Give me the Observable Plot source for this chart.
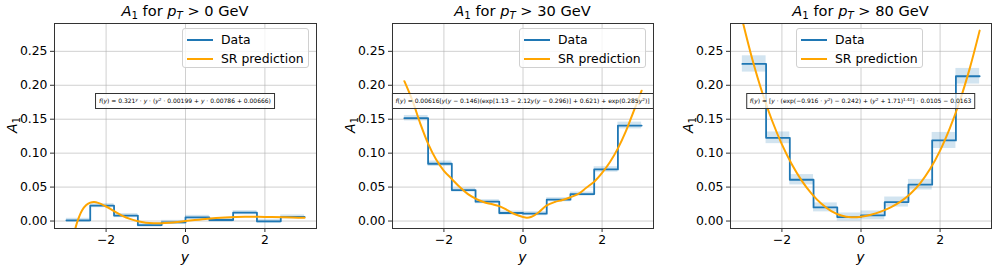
<!DOCTYPE html>
<html><head><meta charset="utf-8">
<script src="https://cdn.jsdelivr.net/npm/d3@7"></script>
<script src="https://cdn.jsdelivr.net/npm/@observablehq/plot@0.6"></script>
<style>
body{margin:0;background:#fff;}
#wrap{position:relative;width:997px;height:267px;font-family:"DejaVu Sans",sans-serif;overflow:hidden;}
.panel{position:absolute;top:0;}
.panel svg{position:absolute;top:22px;left:0;}
.title{position:absolute;top:0;height:22px;line-height:22px;font-size:14.6px;text-align:center;white-space:nowrap;}
.ylab{position:absolute;font-size:14px;transform:translate(-50%,-50%) rotate(-90deg);white-space:nowrap;}
.xlab{position:absolute;font-size:14px;transform:translate(-50%,-50%);}
.formula{position:absolute;top:93px;height:16px;box-sizing:border-box;border:1px solid #333;background:rgba(255,255,255,0.75);font-size:6px;line-height:14px;padding:0 3px;white-space:nowrap;transform:translateX(-50%);}
.legend{position:absolute;top:28px;width:127px;height:40px;box-sizing:border-box;border:1px solid #d0d0d0;border-radius:3px;background:rgba(255,255,255,0.8);font-size:12.4px;}
.legend .row{position:absolute;left:0;height:18px;line-height:18px;}
.legend .sw{position:absolute;left:4px;width:26px;top:8px;height:2px;}
.legend .tx{position:absolute;left:38px;top:0;white-space:nowrap;}
sup{font-size:70%;vertical-align:0.45em;line-height:0;}
sub{font-size:70%;vertical-align:-0.3em;line-height:0;}
</style></head>
<body><div id="wrap"></div>
<script>
// bin edges (y)
const edges = [-3, -2.4, -1.8, -1.2, -0.6, 0, 0.6, 1.2, 1.8, 2.4, 3];
// Data A1 per bin
const data0  = [0.001, 0.0226, 0.008, -0.006, -0.002, 0.0054, 0.0015, 0.0123, -0.0004, 0.006];
const err0   = [0.003, 0.003, 0.003, 0.003, 0.003, 0.003, 0.003, 0.003, 0.003, 0.003];
const data30 = [0.1515, 0.0844, 0.0456, 0.0285, 0.0118, 0.0108, 0.0314, 0.0397, 0.076, 0.1407];
const err30  = [0.004, 0.004, 0.003, 0.003, 0.003, 0.003, 0.003, 0.003, 0.004, 0.005];
const data80 = [0.2314, 0.1226, 0.0608, 0.0201, 0.0059, 0.0083, 0.028, 0.0535, 0.1187, 0.2133];
const err80  = [0.012, 0.0086, 0.0076, 0.0066, 0.006, 0.0066, 0.0074, 0.0078, 0.0118, 0.0115];
// SR prediction curves
const srX0 = [-2.78, -2.75, -2.7, -2.6, -2.5, -2.4, -2.3, -2.2, -2.0, -1.8, -1.6, -1.4, -1.2, -1.0, -0.8, -0.6, -0.4, -0.2, 0, 0.5, 1.0, 1.5, 2.0, 2.5, 3.0];
const srY0 = [-0.0124, -0.0057, 0.0032, 0.0162, 0.0236, 0.0272, 0.028, 0.0268, 0.0214, 0.0145, 0.0081, 0.0031, -0.0004, -0.0025, -0.0033, -0.0032, -0.0024, -0.0013, 0, 0.0031, 0.0053, 0.0063, 0.006, 0.0057, 0.0048];
const srX30 = [-3.0, -2.8, -2.6, -2.4, -2.2, -2.0, -1.8, -1.6, -1.4, -1.2, -1.0, -0.8, -0.6, -0.4, -0.2, 0, 0.1, 0.2, 0.4, 0.6, 0.8, 1.0, 1.2, 1.4, 1.6, 1.8, 2.0, 2.2, 2.4, 2.6, 2.8, 3.0];
const srY30 = [0.206, 0.178, 0.144, 0.114, 0.091, 0.074, 0.062, 0.05, 0.04, 0.033, 0.028, 0.025, 0.022, 0.016, 0.01, 0.006, 0.005, 0.006, 0.013, 0.023, 0.028, 0.031, 0.035, 0.04, 0.049, 0.058, 0.071, 0.087, 0.107, 0.132, 0.162, 0.192];
const srX80 = [-3.0, -2.75, -2.5, -2.25, -2.0, -1.75, -1.5, -1.25, -1.0, -0.75, -0.5, -0.25, 0, 0.25, 0.5, 0.75, 1.0, 1.25, 1.5, 1.75, 2.0, 2.25, 2.5, 2.75, 3.0];
const srY80 = [0.2957, 0.2388, 0.1898, 0.1481, 0.1129, 0.0836, 0.0596, 0.0403, 0.0253, 0.0146, 0.0081, 0.0055, 0.0062, 0.0092, 0.0139, 0.0202, 0.0286, 0.0402, 0.056, 0.077, 0.1038, 0.1371, 0.1772, 0.2249, 0.2805];
// tick labels
const xTicks = [-2, 0, 2];
const yTicks = [0, 0.05, 0.10, 0.15, 0.20, 0.25];
const titles = ["0", "30", "80"];
const formulas = [
 '<i>f</i>(<i>y</i>) = 0.321<sup><i>y</i></sup> · <i>y</i> · (<i>y</i><sup>2</sup> · 0.00199 + <i>y</i> · 0.00786 + 0.00666)',
 '<i>f</i>(<i>y</i>) = 0.00616[<i>y</i>(<i>y</i> − 0.146)(exp[1.13 − 2.12<i>y</i>(<i>y</i> − 0.296)] + 0.621) + exp(0.285<i>y</i><sup>2</sup>)]',
 '<i>f</i>(<i>y</i>) = [<i>y</i> · (exp(−0.916 · <i>y</i><sup>2</sup>) − 0.242) + (<i>y</i><sup>2</sup> + 1.71)<sup>1.42</sup>] · 0.0105 − 0.0163'
];

const panels = [
  {data: data0, err: err0, sx: srX0, sy: srY0, left: 0, width: 338, mr: 22, legendLeft: 182},
  {data: data30, err: err30, sx: srX30, sy: srY30, left: 338, width: 338, mr: 23, legendLeft: 519},
  {data: data80, err: err80, sx: srX80, sy: srY80, left: 676, width: 321, mr: 6, legendLeft: 796}
];

const wrap = document.getElementById("wrap");
const blue = "#1f77b4", orange = "#ffa500";

panels.forEach((p, k) => {
  const bins = p.data.map((v, i) => ({x1: edges[i], x2: edges[i + 1], lo: v - p.err[i], hi: v + p.err[i]}));
  const steps = edges.map((e, i) => ({x: e, y: p.data[Math.min(i, p.data.length - 1)]}));
  const curve = p.sx.map((x, i) => ({x, y: p.sy[i]}));
  const chart = Plot.plot({
    width: p.width, height: 245,
    marginLeft: 54, marginRight: p.mr, marginTop: 1, marginBottom: 39,
    style: {fontFamily: "DejaVu Sans", fontSize: "12px", color: "#000", background: "transparent"},
    x: {domain: [-3.3, 3.3]},
    y: {domain: [-0.011, 0.291]},
    marks: [
      Plot.gridX(xTicks, {stroke: "#b0b0b0", strokeOpacity: 0.6, strokeWidth: 1}),
      Plot.gridY(yTicks, {stroke: "#b0b0b0", strokeOpacity: 0.6, strokeWidth: 1}),
      Plot.rectY(bins, {x1: "x1", x2: "x2", y1: "lo", y2: "hi", fill: blue, fillOpacity: 0.2, inset: 0}),
      Plot.line(steps, {x: "x", y: "y", curve: "step-after", stroke: blue, strokeWidth: 1.8}),
      Plot.line(curve, {x: "x", y: "y", curve: "catmull-rom", stroke: orange, strokeWidth: 2, clip: true}),
      Plot.axisX(xTicks, {tickSize: 4, tickPadding: 3, fontSize: 12.4, label: null, stroke: "#333",
        tickFormat: d => d < 0 ? "\u2212" + Math.abs(d) : String(d)}),
      Plot.axisY(yTicks, {tickSize: 4, tickPadding: 3, fontSize: 12.4, label: null, stroke: "#333",
        tickFormat: d3.format(".2f")}),
      Plot.frame({stroke: "#333", strokeWidth: 1})
    ]
  });
  const div = document.createElement("div");
  div.className = "panel";
  div.style.left = p.left + "px";
  div.style.width = p.width + "px";
  div.style.height = "267px";
  div.appendChild(chart);
  const frameL = 54, frameR = p.width - p.mr, cx = (frameL + frameR) / 2;
  div.insertAdjacentHTML("beforeend",
    `<div class="title" style="left:${frameL}px;width:${frameR - frameL}px;"><i>A</i><sub>1</sub> for <i>p</i><sub><i>T</i></sub> &gt; ${titles[k]} GeV</div>` +
    `<div class="ylab" style="left:12px;top:125px;"><i>A</i><sub>1</sub></div>` +
    `<div class="xlab" style="left:${cx}px;top:257px;"><i>y</i></div>` +
    `<div class="formula" style="left:${cx}px;">${formulas[k]}</div>` +
    `<div class="legend" style="left:${p.legendLeft - p.left}px;">` +
      `<div class="row" style="top:2px;width:100%"><div class="sw" style="background:${blue}"></div><div class="tx">Data</div></div>` +
      `<div class="row" style="top:20.5px;width:100%"><div class="sw" style="background:${orange}"></div><div class="tx">SR prediction</div></div>` +
    `</div>`);
  wrap.appendChild(div);
});
</script>
</body></html>
